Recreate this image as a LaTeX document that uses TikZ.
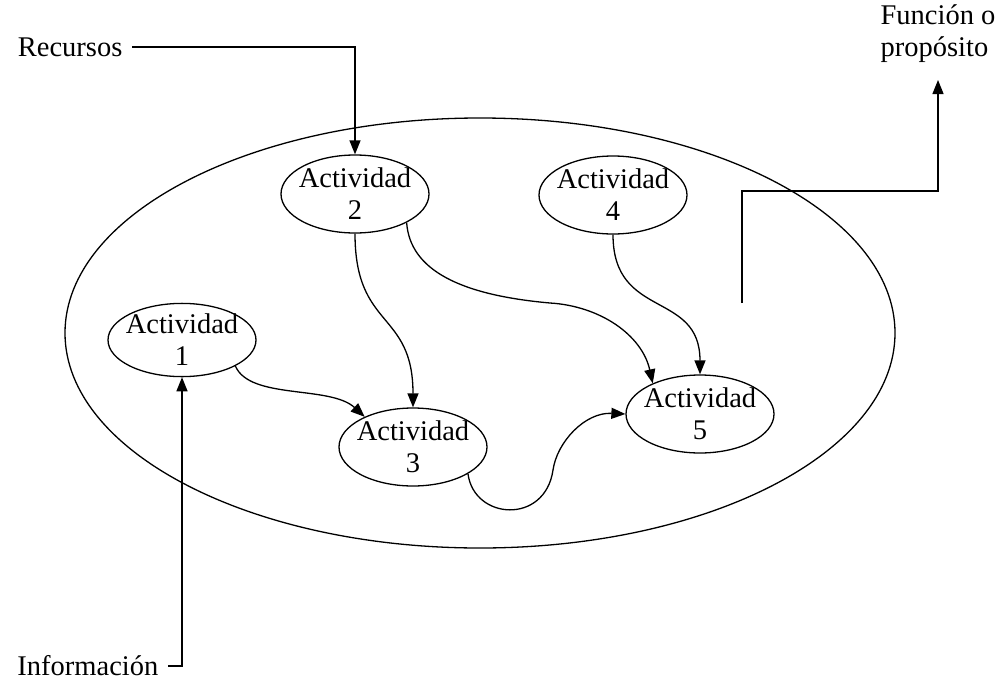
\documentclass[tikz,border=0pt]{standalone}
\usepackage{fontspec}
\setmainfont{Liberation Serif}
\usetikzlibrary{arrows.meta,shapes.geometric}
\begin{document}
\begin{tikzpicture}[x=1pt,y=-1pt,
  line width=1.3pt,
  every node/.style={font=\fontsize{28.5}{32}\selectfont},
  act/.style={draw, ellipse, align=center, inner xsep=-4pt, inner ysep=0pt,
              minimum width=148pt, minimum height=78pt},
  lbl/.style={inner sep=0pt},
  arr/.style={-{Triangle[length=14pt,width=11pt]}},
]
\useasboundingbox (0,0) rectangle (1000,685);

% the system boundary
\node[draw, ellipse, inner sep=0pt, minimum width=830pt, minimum height=430pt] (sys) at (480,333) {};

% activities
\node[act] (a2) at (355,194) {Actividad\\2};
\node[act] (a4) at (613,195) {Actividad\\4};
\node[act, minimum height=72pt] (a1) at (182,340) {Actividad\\1};
\node[act] (a3) at (413,447) {Actividad\\3};
\node[act] (a5) at (700,414) {Actividad\\5};

% inputs and output
\node[lbl, anchor=east, inner xsep=9pt] (rec) at (132,47) {Recursos};
\node[lbl, anchor=east, inner xsep=9pt] (info) at (168,666) {Información};
\node[lbl, align=left, anchor=south, outer ysep=17pt] (func) at (938,80) {Función o\\propósito};

\draw[arr] (rec.east) -| (a2.north);
\draw[arr] (info.east) -| (a1.south);
\coordinate (fbase) at (742,303);
\coordinate (fturn) at (742,191);
\draw[arr] (fbase) -- (fturn) -| (func.south);

% flows between activities
\draw[arr] (a1.-26) .. controls (250,400) and (330,385) .. (a3.148);
\draw[arr] (a2.south) .. controls (355,330) and (413,310) .. (a3.north);
\draw[arr] (a2.-29) .. controls (410,270) and (460,295) .. (550,303)
                    .. controls (600,306) and (642,335) .. (a5.147);
\draw[arr] (a4.south) .. controls (613,320) and (700,290) .. (a5.north);
\draw[arr] (a3.-26) .. controls (474,520) and (545,525) .. (553,470)
                    .. controls (557,442) and (585,412) .. (a5.west);
\end{tikzpicture}
\end{document}
